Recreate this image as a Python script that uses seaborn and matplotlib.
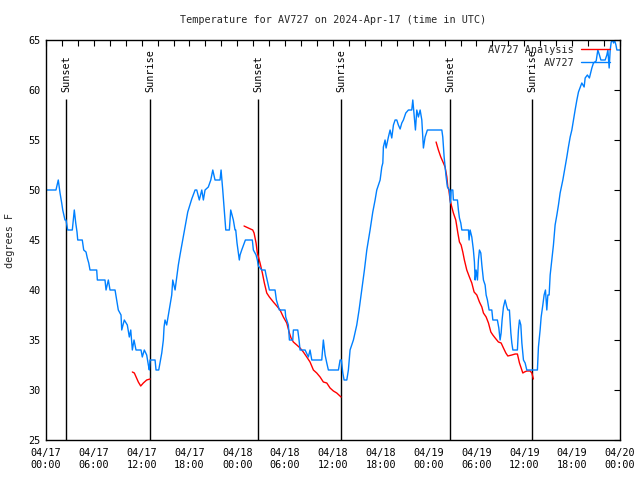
import numpy as np
import pandas as pd
import matplotlib
matplotlib.use("Agg")
import matplotlib.pyplot as plt
import matplotlib.dates as mdates
import seaborn as sns

# ---------------- data ----------------
START = "2024-04-17 00:00"
END = "2024-04-20 00:00"

# AV727 observations: hours since 04/17 00:00 UTC, degrees F
obs_hours = [0, 1.25, 1.54, 1.76, 1.97, 2.10, 2.38, 2.51, 2.72, 3.30, 3.55, 3.73, 3.89, 3.98, 4.55, 4.73,
             5.02, 5.18, 5.36, 5.52, 6.36, 6.44, 7.40, 7.53, 7.82, 8.03, 8.66, 8.87, 9.07, 9.41, 9.50,
             9.82, 10.20, 10.45, 10.63, 10.83, 11.04, 11.29, 11.92, 12.08, 12.33, 12.63, 12.84, 12.96,
             13.05, 13.68, 13.80, 14.14, 14.52, 14.72, 14.81, 14.93, 15.14, 15.35, 15.56, 15.77, 15.90,
             16.19, 16.40, 16.60, 16.81, 17.15, 17.44, 17.78, 18.28, 18.70, 18.91, 19.23, 19.54, 19.74,
             19.95, 20.36, 20.67, 20.92, 21.20, 21.83, 21.96, 22.17, 22.46, 22.55, 23.00, 23.17, 23.50,
             23.71, 23.80, 23.96, 24.25, 24.34, 24.55, 25.01, 25.88, 26.01, 26.35, 26.51, 26.64, 27.06,
             27.48, 27.60, 28.02, 28.73, 28.90, 29.27, 29.99, 30.07, 30.40, 30.53, 30.95, 31.03, 31.58,
             31.74, 31.87, 32.50, 32.91, 33.12, 33.34, 34.59, 34.79, 35.01, 35.22, 35.42, 36.68, 36.89,
             37.05, 37.23, 37.39, 37.73, 37.93, 38.14, 38.56, 38.98, 39.27, 39.61, 39.94, 40.24, 40.65,
             40.99, 41.28, 41.49, 41.91, 42.12, 42.25, 42.32, 42.53, 42.66, 42.95, 43.16, 43.37, 43.58,
             43.79, 44.00, 44.20, 44.42, 44.63, 44.83, 45.13, 45.46, 45.88, 46.01, 46.21, 46.34, 46.51,
             46.71, 46.93, 47.14, 47.26, 47.34, 47.55, 47.84, 49.65, 49.77, 49.94, 50.19, 50.35, 50.60,
             50.73, 50.82, 51.03, 51.10, 51.61, 51.73, 51.86, 52.03, 52.16, 52.99, 53.07, 53.20, 53.41,
             53.61, 53.74, 53.83, 53.95, 54.12, 54.24, 54.37, 54.54, 54.67, 54.87, 55.08, 55.21, 55.37,
             55.58, 55.92, 56.05, 56.62, 56.80, 56.96, 57.09, 57.21, 57.38, 57.59, 57.80, 57.93, 58.13,
             58.31, 58.43, 58.56, 59.13, 59.26, 59.39, 59.56, 59.69, 59.89, 60.10, 60.31, 61.64, 61.77,
             61.98, 62.11, 62.32, 62.48, 62.65, 62.82, 62.95, 63.11, 63.24, 63.45, 63.65, 63.86, 64.08,
             64.28, 64.49, 64.83, 65.12, 65.33, 65.53, 65.75, 65.96, 66.16, 66.37, 66.59, 66.79, 67.21,
             67.50, 67.63, 67.91, 68.16, 68.47, 68.67, 69.01, 69.22, 69.42, 69.60, 70.14, 70.35, 70.48,
             70.64, 70.77, 70.90, 71.06, 71.19, 71.31, 71.49, 71.61, 72.0]
obs_temps = [50, 50, 51, 49.7, 48.7, 48, 47, 47, 46, 46, 48, 46.7, 45.8, 45, 45, 44,
             43.8, 43.2, 42.7, 42, 42, 41, 41, 40, 41, 40, 40, 39, 38, 37.5, 36,
             37, 36.5, 35.3, 36, 34, 35, 34, 34, 33.3, 34, 33.5, 32.5, 32,
             33, 33, 32, 32, 33.7, 35, 36.3, 37, 36.5, 37.5, 38.5, 39.5, 41,
             40, 41.3, 42.5, 43.5, 45, 46.3, 47.8, 49.1, 50, 50, 49, 50, 49,
             50, 50.3, 51, 52, 51, 51, 52, 50, 47, 46, 46, 48, 47,
             46, 46, 44.7, 43, 43.5, 44, 45, 45, 44, 43.5, 43, 42.4, 42,
             42, 41.5, 40, 40, 39, 38, 38, 37.3, 36.5, 35, 35, 36, 36,
             35, 34, 34, 33.3, 34, 33, 33, 35, 33.5, 32.7, 32, 32, 33,
             33, 31.7, 31, 31, 32, 34, 35, 36.5, 38, 40, 42, 44, 46,
             47.8, 49, 50, 51, 52.3, 52.7, 54.3, 55, 54.2, 55.3, 56, 55.2, 56.5,
             57, 57, 56.5, 56.1, 56.7, 57, 57.7, 58, 58, 59, 57.2, 56, 58,
             57.3, 58, 57, 55.3, 54.2, 55.3, 56, 56, 55.3, 53.3, 51.3, 50.3, 50,
             48.7, 50, 50, 49, 49, 48, 47.2, 46.7, 46, 46, 45, 46, 45.3,
             44, 42.8, 41, 42, 41, 43, 44, 43.7, 42.5, 41, 40.5, 39.5, 39,
             38, 38, 37, 37, 36.2, 35, 35.7, 37, 38.3, 39, 38.3, 38, 38,
             35.7, 34.7, 34, 34, 36, 37, 36.5, 34.7, 33, 32.7, 32, 32, 34.3,
             36, 37.3, 38.5, 39.5, 40, 38, 39.5, 39.5, 41.5, 43, 44.5, 46.5, 47.5,
             48.5, 49.7, 51, 52.3, 53.3, 54.3, 55.3, 56, 57, 58, 59, 59.8, 60.7,
             60.3, 61.2, 61.5, 61.2, 62.2, 62.7, 62.9, 64, 63.5, 63, 63, 63.5, 64,
             62.2, 64, 64.8, 65, 64.7, 65, 64.5, 64, 64]

# AV727 Analysis: three separate segments
ana1_hours = [10.83, 11.08, 11.58, 11.88, 12.21, 12.63, 13.05]
ana1_temps = [31.8, 31.7, 30.8, 30.4, 30.7, 31.0, 31.1]
ana2_hours = [24.84, 25.38, 25.93, 26.10, 26.35, 26.51, 26.85, 27.14, 27.39, 27.69, 28.02, 28.52,
              28.95, 29.36, 29.77, 30.20, 30.53, 30.74, 31.03, 31.46, 31.87, 32.28, 32.71, 33.12,
              33.54, 33.96, 34.38, 34.79, 35.22, 35.63, 36.05, 36.47, 37.01]
ana2_temps = [46.4, 46.2, 46.0, 45.7, 44.7, 43.7, 42.7, 41.7, 40.7, 39.7, 39.3, 38.8,
              38.4, 38.0, 37.3, 36.7, 35.7, 35.2, 34.8, 34.5, 34.2, 33.8, 33.3, 32.8,
              32.0, 31.7, 31.3, 30.8, 30.7, 30.2, 29.9, 29.7, 29.3]
ana3_hours = [48.93, 49.22, 49.52, 49.85, 50.06, 50.28, 50.40, 50.53, 50.69, 50.90, 51.10, 51.40,
              51.66, 51.86, 52.07, 52.28, 52.48, 52.78, 53.11, 53.41, 53.70, 54.04, 54.37, 54.67,
              54.87, 55.21, 55.50, 55.80, 56.05, 56.34, 56.75, 57.09, 57.38, 57.68, 57.93, 58.43,
              58.85, 59.13, 59.39, 59.60, 59.81, 60.01, 60.31, 60.73, 60.94, 61.14]
ana3_temps = [54.8, 54.0, 53.3, 52.7, 52.3, 51.3, 50.3, 50.0, 49.0, 48.3, 47.7, 47.0,
              45.7, 44.8, 44.5, 43.8, 43.0, 42.0, 41.3, 40.7, 39.8, 39.5, 38.8, 38.3,
              37.7, 37.3, 36.7, 35.8, 35.5, 35.2, 34.8, 34.7, 34.2, 33.7, 33.4, 33.5,
              33.6, 33.6, 32.7, 32.2, 31.7, 31.8, 31.9, 31.9, 31.7, 31.1]

sun_labels = ["Sunset", "Sunrise", "Sunset", "Sunrise", "Sunset", "Sunrise"]
sun_times = ["2024-04-17 02:33", "2024-04-17 13:05", "2024-04-18 02:38",
             "2024-04-18 13:03", "2024-04-19 02:44", "2024-04-19 13:00"]
sun_line_top = 59.1

title = "Temperature for AV727 on 2024-Apr-17 (time in UTC)"
ylabel = "degrees F"
series_names = ["AV727 Analysis", "AV727"]
colors = {"AV727 Analysis": "#ff0000", "AV727": "#0080ff"}

# ---------------- build table ----------------
t0 = pd.Timestamp(START)
def to_time(h):
    return t0 + pd.to_timedelta(np.asarray(h, dtype=float), unit="h")

frames = []
for seg, (hh, tt) in enumerate([(ana1_hours, ana1_temps), (ana2_hours, ana2_temps), (ana3_hours, ana3_temps)]):
    frames.append(pd.DataFrame({"time": to_time(hh), "temp": tt, "series": "AV727 Analysis", "seg": f"a{seg}"}))
frames.append(pd.DataFrame({"time": to_time(obs_hours), "temp": obs_temps, "series": "AV727", "seg": "o"}))
df = pd.concat(frames, ignore_index=True)

# ---------------- plot ----------------
sns.set_theme(style="white")
FONT = ["DejaVu Sans Mono"]
plt.rcParams["font.family"] = FONT
plt.rcParams["font.size"] = 7.3

fig = plt.figure(figsize=(6.4, 4.8), dpi=100)
ax = fig.add_axes([46 / 640, 40 / 480, 574 / 640, 400 / 480])

sns.lineplot(data=df, x="time", y="temp", hue="series", units="seg", estimator=None,
             hue_order=series_names, palette=colors, linewidth=1.0, sort=False, ax=ax)

# sunrise / sunset markers
for lab, ts in zip(sun_labels, sun_times):
    t = pd.Timestamp(ts)
    ax.vlines(t, 25, sun_line_top, color="black", linewidth=1.0, zorder=1)
    ax.text(t, sun_line_top + 0.7, lab, rotation=90, ha="center", va="bottom",
            fontsize=7.3, color="black")

ax.set_xlim(pd.Timestamp(START), pd.Timestamp(END))
ax.set_ylim(25, 65)
ax.set_yticks(np.arange(25, 66, 5))
ax.xaxis.set_major_locator(mdates.HourLocator(byhour=[0, 6, 12, 18]))
ax.xaxis.set_minor_locator(mdates.HourLocator(byhour=list(range(0, 24, 2))))
ax.xaxis.set_major_formatter(mdates.DateFormatter("%m/%d\n%H:%M"))

ax.tick_params(axis="both", which="both", direction="in", top=True, right=True,
               length=4, width=0.8, colors="black", labelsize=7.3)
ax.tick_params(axis="x", which="major", pad=6)
ax.tick_params(axis="y", which="major", pad=4)
for s in ax.spines.values():
    s.set_color("black")
    s.set_linewidth(1.0)

ax.set_xlabel("")
ax.set_ylabel(ylabel, fontsize=7.3)
ax.yaxis.set_label_coords((15 - 46) / 574, 0.5)

fig.text(333 / 640, 1 - 20 / 480, title, ha="center", va="center", fontsize=7.3)

leg = ax.legend(loc="upper right", bbox_to_anchor=((610 - 46) / 574, 1 - 5 / 400),
                frameon=False, markerfirst=False, fontsize=7.3,
                handlelength=2.9, handletextpad=0.65, labelspacing=0.28,
                borderaxespad=0.0, borderpad=0.0)

fig.savefig("out.png", dpi=100)
